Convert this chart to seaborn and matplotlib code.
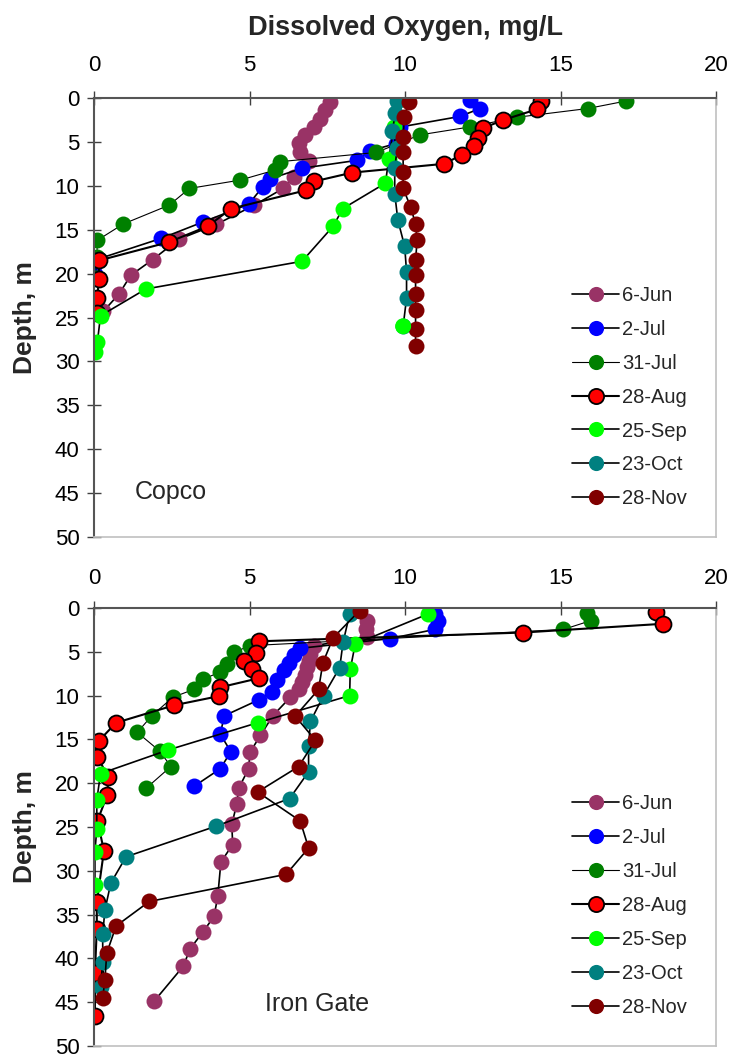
import matplotlib
matplotlib.use("Agg")
import matplotlib.pyplot as plt
import pandas as pd
import seaborn as sns

# Sampling dates and marker colours
dates = ["6-Jun", "2-Jul", "31-Jul", "28-Aug", "25-Sep", "23-Oct", "28-Nov"]
colors = ["#993366", "#0000FF", "#008000", "#FF0000", "#00FF00", "#008080", "#800000"]
edge_colors = ["none", "none", "none", "black", "none", "none", "none"]
line_widths = [1.2, 1.2, 0.8, 1.5, 1.2, 1.2, 1.2]

x_ticks = [0, 5, 10, 15, 20]
y_ticks = [0, 5, 10, 15, 20, 25, 30, 35, 40, 45, 50]

# ---- Copco reservoir profiles (DO mg/L, depth m) ----
copco_jun6_do = [7.58, 7.44, 7.26, 7.09, 6.80, 6.58, 6.63, 6.90, 6.42, 6.08, 5.16, 3.93, 2.72, 1.89, 1.18, 0.81, 0.30]
copco_jun6_depth = [0.4, 1.4, 2.4, 3.3, 4.2, 5.1, 6.1, 7.2, 9.0, 10.3, 12.2, 14.4, 16.1, 18.4, 20.2, 22.3, 24.3]

copco_jul2_do = [12.10, 12.41, 11.77, 9.85, 9.70, 8.89, 8.46, 6.69, 5.67, 5.43, 4.97, 3.52, 2.15, 0.08, 0.03]
copco_jul2_depth = [0.2, 1.2, 2.1, 3.3, 5.2, 6.0, 7.1, 8.0, 9.2, 10.1, 12.1, 14.1, 16.0, 18.4, 20.0]

copco_jul31_do = [17.10, 15.87, 13.59, 12.08, 10.48, 9.08, 5.99, 5.83, 4.70, 3.07, 2.42, 0.94, 0.11, 0.09, 0.05]
copco_jul31_depth = [0.35, 1.2, 2.2, 3.3, 4.2, 6.2, 7.25, 8.2, 9.35, 10.3, 12.2, 14.35, 16.2, 18.1, 20.5]

copco_aug28_do = [14.36, 14.23, 13.16, 12.50, 12.34, 12.22, 11.82, 11.25, 8.30, 7.08, 6.83, 4.41, 3.66, 2.42, 0.17, 0.15, 0.11, 0.09]
copco_aug28_depth = [0.35, 1.3, 2.5, 3.45, 4.5, 5.5, 6.5, 7.5, 8.5, 9.5, 10.5, 12.6, 14.6, 16.4, 18.5, 20.6, 22.8, 24.5]

copco_sep25_do = [9.98, 9.64, 9.48, 9.37, 8.00, 7.69, 6.69, 1.67, 0.21, 0.11, 0.03]
copco_sep25_depth = [0.15, 3.3, 6.9, 9.7, 12.6, 14.6, 18.6, 21.75, 24.8, 27.75, 28.9]

copco_oct23_do = [9.75, 9.69, 9.59, 9.75, 9.67, 9.67, 9.77, 9.99, 10.05, 10.05, 9.94]
copco_oct23_depth = [0.3, 1.75, 3.8, 5.7, 8.0, 10.9, 13.9, 16.9, 19.8, 22.8, 26.0]

copco_nov28_do = [10.12, 9.98, 9.94, 9.94, 9.94, 9.94, 10.18, 10.34, 10.39, 10.34, 10.34, 10.34, 10.34, 10.34, 10.34]
copco_nov28_depth = [0.4, 2.2, 4.4, 6.2, 8.4, 10.3, 12.4, 14.35, 16.2, 18.45, 20.2, 22.3, 24.2, 26.35, 28.3]

# lone 25-Sep reading plotted on the 23-Oct profile at Copco
copco_sep25_extra_do = [9.94]
copco_sep25_extra_depth = [26.0]

# ---- Iron Gate reservoir profiles ----
ig_jun6_do = [8.35, 8.78, 8.76, 8.78, 7.06, 6.96, 6.90, 6.85, 6.80, 6.69, 6.58, 6.31, 5.75, 5.35, 5.02, 4.97,
              4.65, 4.59, 4.43, 4.46, 4.08, 3.98, 3.86, 3.50, 3.09, 2.87, 1.93]
ig_jun6_depth = [0.3, 1.45, 2.4, 3.35, 4.3, 5.2, 6.0, 6.75, 7.7, 8.45, 9.2, 10.2, 12.3, 14.55, 16.45, 18.35,
                 20.6, 22.4, 24.7, 27.0, 29.0, 32.9, 35.2, 37.0, 38.9, 40.9, 44.9]

ig_jul2_do = [10.98, 11.06, 10.95, 9.51, 6.63, 6.42, 6.26, 6.10, 5.88, 5.72, 5.32, 4.19, 4.06, 4.40, 4.06, 3.22]
ig_jul2_depth = [0.7, 1.45, 2.45, 3.5, 4.6, 5.4, 6.25, 7.1, 8.25, 9.6, 10.45, 12.3, 14.4, 16.4, 18.35, 20.35]

ig_jul31_do = [15.85, 15.97, 15.09, 5.02, 4.51, 4.27, 4.06, 3.50, 3.20, 2.53, 1.86, 1.39, 2.12, 2.47, 1.67]
ig_jul31_depth = [0.55, 1.45, 2.45, 4.3, 5.05, 6.4, 7.3, 8.15, 9.3, 10.2, 12.3, 14.2, 16.35, 18.1, 20.6]

ig_aug28_do = [18.07, 18.31, 13.80, 5.32, 5.22, 4.81, 5.08, 5.32, 4.06, 4.03, 2.58, 0.71, 0.16, 0.11, 0.46,
               0.43, 0.11, 0.32, 0.09, 0.09, 0.03, 0.03]
ig_aug28_depth = [0.4, 1.8, 2.8, 3.8, 5.1, 6.0, 6.95, 8.0, 9.05, 10.05, 11.1, 13.1, 15.15, 17.0, 19.3,
                  21.3, 24.3, 27.7, 33.6, 36.6, 41.7, 46.6]

ig_sep25_do = [10.73, 8.40, 8.24, 8.22, 5.26, 2.39, 0.21, 0.09, 0.09, 0.03, 0.03]
ig_sep25_depth = [0.7, 4.1, 7.0, 10.0, 13.1, 16.2, 18.9, 21.9, 25.2, 27.8, 31.6]

ig_oct23_do = [8.22, 8.01, 7.90, 7.38, 6.96, 6.90, 6.90, 6.29, 3.93, 1.03, 0.54, 0.35, 0.28, 0.28, 0.21]
ig_oct23_depth = [0.7, 3.9, 6.8, 10.0, 12.95, 15.75, 18.7, 21.75, 24.9, 28.4, 31.4, 34.5, 37.25, 40.4, 43.3]

ig_nov28_do = [8.54, 7.69, 7.36, 7.22, 6.47, 7.12, 6.58, 5.26, 6.63, 6.90, 6.18, 1.78, 0.71, 0.41, 0.35, 0.28]
ig_nov28_depth = [0.3, 3.4, 6.25, 9.3, 12.35, 15.1, 18.1, 21.0, 24.3, 27.4, 30.4, 33.5, 36.3, 39.4, 42.5, 44.5]

copco_series = [
    (copco_jun6_do, copco_jun6_depth),
    (copco_jul2_do, copco_jul2_depth),
    (copco_jul31_do, copco_jul31_depth),
    (copco_aug28_do, copco_aug28_depth),
    (copco_sep25_do, copco_sep25_depth),
    (copco_oct23_do, copco_oct23_depth),
    (copco_nov28_do, copco_nov28_depth),
]
irongate_series = [
    (ig_jun6_do, ig_jun6_depth),
    (ig_jul2_do, ig_jul2_depth),
    (ig_jul31_do, ig_jul31_depth),
    (ig_aug28_do, ig_aug28_depth),
    (ig_sep25_do, ig_sep25_depth),
    (ig_oct23_do, ig_oct23_depth),
    (ig_nov28_do, ig_nov28_depth),
]

sns.set_theme(style="white")
plt.rcParams["font.family"] = ["Liberation Sans", "DejaVu Sans"]

W, H = 730, 1059
MS = 11.5
fig = plt.figure(figsize=(W / 100, H / 100), dpi=100)
ax_top = fig.add_axes([94 / W, 1 - 537 / H, 622 / W, 439 / H])
ax_bot = fig.add_axes([94 / W, 1 - 1046 / H, 622 / W, 438 / H])


def draw_profiles(ax, series):
    for (do, depth), label, fc, ec, lw in zip(series, dates, colors, edge_colors, line_widths):
        df = pd.DataFrame({"do": do, "depth": depth})
        sns.lineplot(data=df, x="do", y="depth", ax=ax, sort=False, estimator=None,
                     color="black", linewidth=lw, marker="o", markersize=MS,
                     markerfacecolor=fc, markeredgecolor=(ec if ec != "none" else fc),
                     markeredgewidth=(1.3 if ec != "none" else 0), label=label)


def style_axes(ax, xpad, legend_top):
    ax.set_xlim(0, 20)
    ax.set_ylim(50, 0)
    ax.set_xticks(x_ticks)
    ax.set_yticks(y_ticks)
    ax.xaxis.set_ticks_position("top")
    ax.tick_params(axis="both", direction="inout", length=10, width=1.0,
                   color="#404040", labelsize=16, labelcolor="black")
    ax.tick_params(axis="x", top=True, bottom=False, labeltop=True, labelbottom=False, pad=xpad)
    ax.tick_params(axis="y", left=True, right=False, pad=5.5)
    for side in ("top", "left"):
        ax.spines[side].set_color("#555555")
        ax.spines[side].set_linewidth(1.5)
    for side in ("right", "bottom"):
        ax.spines[side].set_color("#c0c0c0")
        ax.spines[side].set_linewidth(1.2)
    ax.set_xlabel("")
    ax.set_ylabel("Depth, m", fontsize=19, fontweight="bold")
    ax.yaxis.set_label_coords(-0.092, 0.5)
    ax.legend(loc="upper left", bbox_to_anchor=((572 - 94) / 622, legend_top),
              frameon=False, fontsize=14.5, handlelength=2.35, handletextpad=0.15,
              labelspacing=0.74, borderaxespad=0, borderpad=0, markerscale=0.95)


draw_profiles(ax_top, copco_series)
sns.scatterplot(x=copco_sep25_extra_do, y=copco_sep25_extra_depth, ax=ax_top,
                color=colors[4], s=MS ** 2, edgecolor="none", zorder=5, legend=False)
draw_profiles(ax_bot, irongate_series)

style_axes(ax_top, xpad=10.5, legend_top=0.572)
style_axes(ax_bot, xpad=8.5, legend_top=0.575)

ax_top.text(1.32, 44.9, "Copco", fontsize=18, va="center", ha="left")
ax_bot.text(5.5, 45.2, "Iron Gate", fontsize=18, va="center", ha="left")

fig.text(405 / W, 1 - 28 / H, "Dissolved Oxygen, mg/L", ha="center", va="center",
         fontsize=19.5, fontweight="bold")

fig.savefig("out.png", dpi=100)
